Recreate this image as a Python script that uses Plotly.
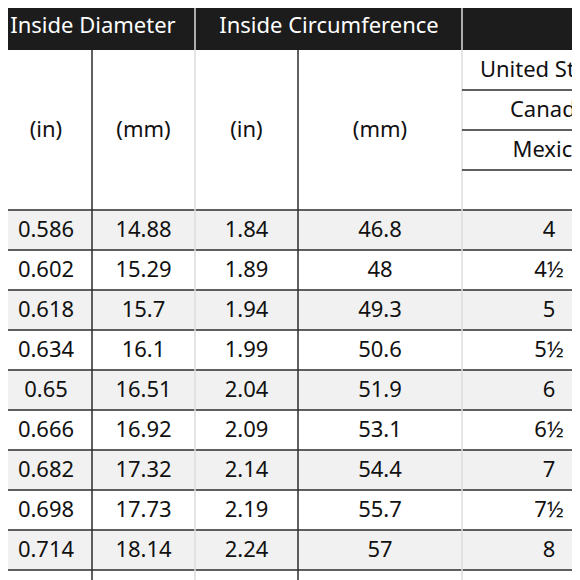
import plotly.graph_objects as go

id_in = ["0.586","0.602","0.618","0.634","0.65","0.666","0.682","0.698","0.714"]
id_mm = ["14.88","15.29","15.7","16.1","16.51","16.92","17.32","17.73","18.14"]
ic_in = ["1.84","1.89","1.94","1.99","2.04","2.09","2.14","2.19","2.24"]
ic_mm = ["46.8","48","49.3","50.6","51.9","53.1","54.4","55.7","57"]
us_size = ["4","4½","5","5½","6","6½","7","7½","8"]
group_titles = ["Inside Diameter", "Inside Circumference"]
unit_labels = ["(in)", "(mm)", "(in)", "(mm)"]
region_labels = ["United States", "Canada", "Mexico", ""]

col_edges = [0, 92, 195, 298, 462, 636]
top_h, head_bottom, row_h = 50, 210, 40
line_c = "#2b2b2b"
font = "Noto Sans"
off = 8  # page margin compensation

shapes, xs, ys, ts = [], [], [], []
shapes.append(dict(type="rect", x0=-50, x1=700, y0=-50, y1=top_h, fillcolor="#1c1c1c", line_width=0, layer="below"))
cols = list(zip(id_in, id_mm, ic_in, ic_mm, us_size))
for r, row in enumerate(cols + [None]):
    y0 = head_bottom + r * row_h
    shapes.append(dict(type="line", x0=-50, x1=700, y0=y0, y1=y0, line=dict(color=line_c, width=1.5)))
    if row is None:
        continue
    if r % 2 == 0:
        shapes.append(dict(type="rect", x0=-50, x1=700, y0=y0, y1=y0 + row_h, fillcolor="#f1f1f1", line_width=0, layer="below"))
    for c, v in enumerate(row):
        xs.append((col_edges[c] + col_edges[c + 1]) / 2); ys.append(y0 + row_h / 2 + 1); ts.append(v)
for i, x in enumerate(col_edges[1:5]):
    ytop = top_h if i in (0, 2) else -50
    shapes.append(dict(type="line", x0=x, x1=x, y0=ytop, y1=700, line=dict(color=line_c if ytop > 0 else "#dddddd", width=1.5)))
for k in range(1, 4):
    y = top_h + k * 40
    shapes.append(dict(type="line", x0=col_edges[4], x1=700, y0=y, y1=y, line=dict(color=line_c, width=1.5)))
for c, u in enumerate(unit_labels):
    xs.append((col_edges[c] + col_edges[c + 1]) / 2); ys.append(131); ts.append(u)
for k, lab in enumerate(region_labels):
    xs.append((col_edges[4] + col_edges[5]) / 2); ys.append(top_h + k * 40 + 21); ts.append(lab)

fig = go.Figure()
fig.add_trace(go.Scatter(x=xs, y=ys, text=ts, mode="text", textfont=dict(family=font, size=22, color="#111"),
                         cliponaxis=True, hoverinfo="skip"))
fig.add_trace(go.Scatter(x=[93, 329], y=[27, 27], text=group_titles, mode="text",
                         textfont=dict(family=font, size=22, color="white"), cliponaxis=True, hoverinfo="skip"))
fig.update_layout(width=580, height=580, margin=dict(l=0, r=0, t=0, b=0), showlegend=False,
                  plot_bgcolor="white", paper_bgcolor="white", shapes=shapes,
                  xaxis=dict(range=[off, 580 + off], visible=False, fixedrange=True),
                  yaxis=dict(range=[580 + off, off], visible=False, fixedrange=True))
fig.write_html("out.html")
